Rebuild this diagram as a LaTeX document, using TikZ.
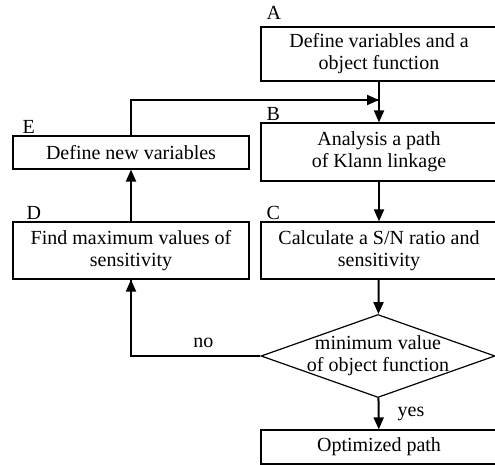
\documentclass[tikz,border=0pt]{standalone}
\usepackage{fontspec}
\setmainfont{Liberation Serif}
\usetikzlibrary{shapes, arrows.meta, positioning, calc}

\begin{document}
\begin{tikzpicture}[x=1bp, y=-1bp,
        stepbox/.style={rectangle, draw=black, line width=1.2bp, fill=white, minimum width=236bp, align=center, inner sep=0pt, font=\fontsize{20bp}{22bp}\selectfont},
        decision/.style={diamond, draw=black, line width=1.2bp, minimum width=234bp, minimum height=83bp, inner sep=0pt},
        arrow/.style={-{Triangle[length=12bp, width=10bp]}, line width=2bp, draw=black},
        line/.style={line width=1.5bp, draw=black},
        tag/.style={anchor=south west, inner sep=0pt, xshift=6bp, yshift=2bp, font=\fontsize{20bp}{22bp}\selectfont},
        label/.style={inner sep=0pt, font=\fontsize{20bp}{22bp}\selectfont}
    ]
        \useasboundingbox (0,0) rectangle (495,465);

        % Right column
        \node[stepbox, minimum height=54bp] (a) at (379, 54) {Define variables and a\\object function};
        \node[stepbox, minimum height=58bp] (b) at (379, 152) {Analysis a path\\of Klann linkage};
        \node[stepbox, minimum height=57bp] (c) at (379, 250.5) {Calculate a S/N ratio and\\sensitivity};
        \node[decision] (dec) at (378, 356) {};
        \node[label, align=center] (dectext) at (378, 356) {minimum value\\of object function};
        \node[stepbox, minimum height=34bp] (opt) at (379, 447) {Optimized path};

        % Left column
        \node[stepbox, minimum height=33bp] (e) at (131, 152.5) {Define new variables};
        \node[stepbox, minimum height=57bp] (d) at (131, 250.5) {Find maximum values of\\sensitivity};

        % Step letters
        \node[tag, yshift=5bp] (ta) at (a.north west) {A};
        \node[tag, yshift=0bp] (tb) at (b.north west) {B};
        \node[tag] (tc) at (c.north west) {C};
        \node[tag, xshift=8bp] (td) at (d.north west) {D};
        \node[tag, xshift=4bp] (te) at (e.north west) {E};

        \coordinate (merge) at (379, 100);

        % Flow
        \draw[arrow] (a) -- (b);
        \draw[arrow] (b) -- (c);
        \draw[arrow] (c) -- (dec);
        \draw[arrow] (dec) -- (opt) node[midway, right=18bp, label] (yes) {yes};
        \draw[line] (dec.west) -| (d.south) node[pos=0.22, above=8bp, label] (no) {no};
        \draw[arrow] (dec.west -| d.south) -- (d.south);
        \draw[arrow] (d) -- (e);
        \draw[line] (e.north) |- (merge);
        \draw[arrow] (e.north |- merge) -- (merge);
    \end{tikzpicture}
\end{document}
